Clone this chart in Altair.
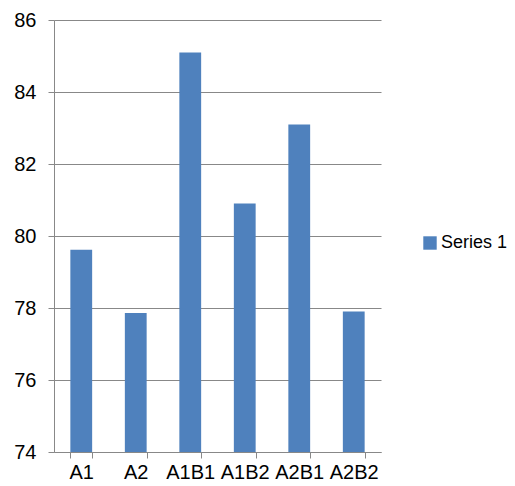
import altair as alt
import pandas as pd

categories = ["A1", "A2", "A1B1", "A1B2", "A2B1", "A2B2"]
values = [79.62, 77.86, 85.1, 80.9, 83.1, 77.9]
series = ["Series 1"] * len(categories)

df = pd.DataFrame({"cat": categories, "val": values, "series": series})

FONT = "Liberation Sans"

chart = alt.Chart(df).mark_bar(color="#4F81BD", clip=True).encode(
    x=alt.X("cat:N", sort=categories, title=None,
            scale=alt.Scale(paddingInner=0.6, paddingOuter=0.3),
            axis=alt.Axis(labelAngle=0, labelFont=FONT, labelFontSize=20,
                          labelColor="black", domainColor="#888888",
                          tickColor="#888888", tickSize=6, tickBand="extent",
                          labelPadding=4, labelOverlap=False, grid=False)),
    y=alt.Y("val:Q", title=None,
            scale=alt.Scale(domain=[74, 86], nice=False, zero=False),
            axis=alt.Axis(values=[74, 76, 78, 80, 82, 84, 86], labelFont=FONT,
                          labelFontSize=20, labelColor="black",
                          domainColor="#888888", tickColor="#888888",
                          gridColor="#888888", gridWidth=1.2, tickSize=6,
                          labelPadding=12)),
    color=alt.Color("series:N", title=None,
                    scale=alt.Scale(range=["#4F81BD"]),
                    legend=alt.Legend(orient="none", legendX=367, legendY=214,
                                      symbolType="square", symbolSize=180,
                                      labelOffset=2,
                                      labelFont=FONT, labelFontSize=18,
                                      labelColor="black", symbolStrokeWidth=0)),
).properties(
    width=327, height=432,
    padding={"left": 54, "top": 20, "right": 134, "bottom": 34},
    autosize=alt.AutoSizeParams(type="none"),
).configure_view(stroke=None)

chart.save("out.html", embed_options={"renderer": "svg", "actions": False})
